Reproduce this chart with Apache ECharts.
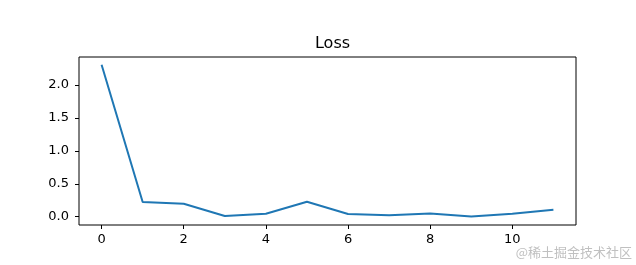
<!DOCTYPE html>
<html>
<head>
<meta charset="utf-8">
<script src="https://cdn.jsdelivr.net/npm/echarts@6/dist/echarts.min.js"></script>
<style>
html,body{margin:0;padding:0;background:#fff;}
#c{width:636px;height:265px;}
</style>
</head>
<body>
<div id="c"></div>
<script>
const titleText = "Loss";
const epochs = [0, 1, 2, 3, 4, 5, 6, 7, 8, 9, 10, 11];
const lossValues = [2.31, 0.223, 0.198, 0.010, 0.046, 0.228, 0.041, 0.022, 0.050, 0.004, 0.045, 0.106];
const xTicks = [0, 2, 4, 6, 8, 10];
const yTicks = [0.0, 0.5, 1.0, 1.5, 2.0];
const watermark = "@稀土掘金技术社区";

const chart = echarts.init(document.getElementById('c'), null, {renderer: 'canvas'});
const font = 'DejaVu Sans';
chart.setOption({
  animation: false,
  backgroundColor: '#fff',
  title: {
    text: titleText,
    left: 327.5,
    textAlign: 'center',
    top: 31,
    textStyle: {fontFamily: font, fontSize: 16, fontWeight: 'normal', color: '#000'}
  },
  grid: {
    left: 79, right: 60, top: 57, bottom: 40,
    show: true, borderColor: '#000', borderWidth: 1, backgroundColor: 'transparent'
  },
  xAxis: {
    type: 'value',
    min: -0.55, max: 11.55,
    splitLine: {show: false},
    axisLine: {show: false, onZero: false},
    axisTick: {show: true, length: 4, lineStyle: {color: '#000', width: 1}, customValues: xTicks},
    axisLabel: {
      customValues: xTicks, margin: 8,
      fontFamily: font, fontSize: 13, color: '#000',
      formatter: v => String(v)
    }
  },
  yAxis: {
    type: 'value',
    min: -0.126, max: 2.427,
    splitLine: {show: false},
    axisLine: {show: false, onZero: false},
    axisTick: {show: true, length: 4, lineStyle: {color: '#000', width: 1}, customValues: yTicks},
    axisLabel: {
      customValues: yTicks, margin: 10,
      fontFamily: font, fontSize: 13, color: '#000',
      formatter: v => v.toFixed(1)
    }
  },
  series: [{
    type: 'line',
    data: epochs.map((e, i) => [e, lossValues[i]]),
    showSymbol: false,
    symbol: 'none',
    lineStyle: {color: '#1f77b4', width: 2},
    itemStyle: {color: '#1f77b4'}
  }],
  graphic: [{
    type: 'text',
    right: 4, top: 246,
    style: {text: watermark, fontFamily: 'Noto Sans CJK SC', fontSize: 13, fill: '#c0c0c0'}
  }]
});
</script>
</body>
</html>
